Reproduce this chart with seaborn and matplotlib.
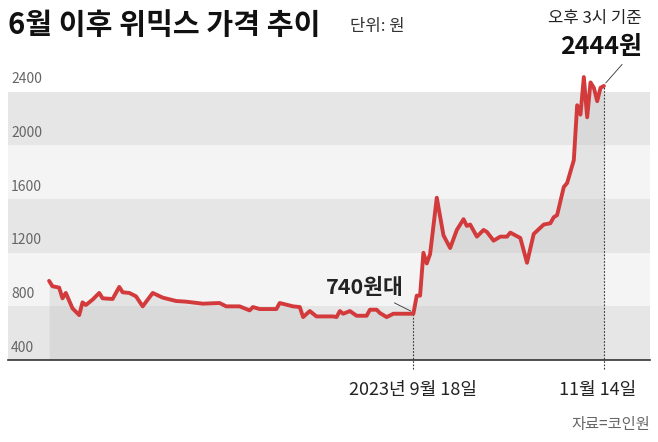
import numpy as np
import pandas as pd
import matplotlib
matplotlib.use("Agg")
import matplotlib.pyplot as plt
import seaborn as sns

day_offsets = [0, 1, 3, 4, 5, 7, 9, 10, 11, 13, 15, 16, 19, 21, 22, 24, 26, 28, 31, 34,
               38, 41, 46, 51, 53, 57, 60, 61, 63, 68, 69, 73, 75, 76, 78, 80, 85, 86, 87, 88,
               90, 92, 95, 96, 98, 99, 101, 103, 109, 110, 111, 112, 113, 114, 116, 118, 120, 122, 124, 125,
               126, 128, 130, 131, 133, 135, 137, 138, 141, 143, 145, 148, 150, 151, 152, 154, 155, 157, 158, 159,
               160, 161, 162, 163, 164, 165, 166]
prices = [990, 950, 940, 860, 900, 785, 735, 830, 810, 850, 900, 860, 855, 945, 905, 900, 875, 800, 900, 865,
          840, 835, 820, 825, 800, 800, 770, 795, 780, 780, 825, 800, 795, 720, 765, 725, 725, 720, 765, 745,
          765, 730, 730, 775, 775, 750, 720, 745, 745, 880, 880, 1200, 1120, 1190, 1610, 1330, 1235, 1370, 1450, 1400,
          1410, 1320, 1370, 1355, 1290, 1320, 1320, 1350, 1310, 1125, 1340, 1410, 1420, 1465, 1480, 1690, 1720, 1890, 2300, 2230,
          2510, 2210, 2470, 2430, 2330, 2430, 2444]
y_ticks = [400, 800, 1200, 1600, 2000, 2400]

start = pd.Timestamp("2023-06-01")
df = pd.DataFrame({"day": day_offsets, "price": prices})

sns.set_theme(style="white")
plt.rcParams["font.family"] = ["Noto Sans CJK KR", "DejaVu Sans"]

fig = plt.figure(figsize=(6.58, 4.42), dpi=100)
ax = fig.add_axes([8 / 658, 82 / 442, 642 / 658, 295 / 442])
ax.set_xlim(-12.3, 179.8)
ax.set_ylim(400, 2600)

# alternating bands
for lo in y_ticks:
    color = "#e6e6e6" if (lo // 400) % 2 == 1 else "#f4f4f4"
    if lo < 2400:
        ax.axhspan(lo, lo + 400, color=color, zorder=0, lw=0)
ax.axhspan(2400, 2600, color="white", zorder=0, lw=0)

ax.fill_between(df["day"], 400, df["price"], color="#bdbdbd", alpha=0.3, lw=0, zorder=1)
sns.lineplot(data=df, x="day", y="price", ax=ax, color="#d23a3c", lw=2.8, zorder=3)

for v in y_ticks:
    ax.text(0.005, v + 40, str(v), transform=ax.get_yaxis_transform(), fontsize=10,
            color="#666666", va="bottom", ha="left")

for s in ["top", "right", "left"]:
    ax.spines[s].set_visible(False)
ax.spines["bottom"].set_color("#333333")
ax.spines["bottom"].set_linewidth(1.2)
ax.set_xticks([])
ax.set_yticks([])
ax.set_xlabel("")
ax.set_ylabel("")

# markers for dates
d1 = (pd.Timestamp("2023-09-18") - start).days
d2 = (pd.Timestamp("2023-11-14") - start).days
for d, p in [(d1, 745), (d2, 2444)]:
    ax.plot([d, d], [330, p], ls=(0, (1.5, 1.5)), color="#333333", lw=0.8, clip_on=False, zorder=2)
ax.text(d1, 240, "2023년 9월 18일", ha="center", va="top", fontsize=13, color="#222222")
ax.text(d2 - 2, 240, "11월 14일", ha="center", va="top", fontsize=13, color="#222222")

ax.annotate("740원대", xy=(d1, 755), xytext=(d1 - 3, 860), ha="right", va="bottom",
            fontsize=15.5, fontweight="bold", color="#222222",
            arrowprops=dict(arrowstyle="-", color="#333333", lw=0.6))
ax.annotate("", xy=(d2, 2450), xytext=(d2 + 6, 2620), annotation_clip=False,
            arrowprops=dict(arrowstyle="-", color="#333333", lw=0.6))

fig.text(8 / 658, 1 - 25 / 442, "6월 이후 위믹스 가격 추이", fontsize=21, fontweight="bold",
         va="center", ha="left", color="#111111")
fig.text(350 / 658, 1 - 27 / 442, "단위: 원", fontsize=12, va="center", ha="left", color="#333333")
fig.text(642 / 658, 1 - 19 / 442, "오후 3시 기준", fontsize=12, va="center", ha="right", color="#222222")
fig.text(642 / 658, 1 - 47 / 442, "2444원", fontsize=18, fontweight="bold", va="center", ha="right", color="#111111")
fig.text(650 / 658, 1 - 424 / 442, "자료=코인원", fontsize=11, va="center", ha="right", color="#666666")

fig.savefig("out.png", dpi=100, facecolor="white")
